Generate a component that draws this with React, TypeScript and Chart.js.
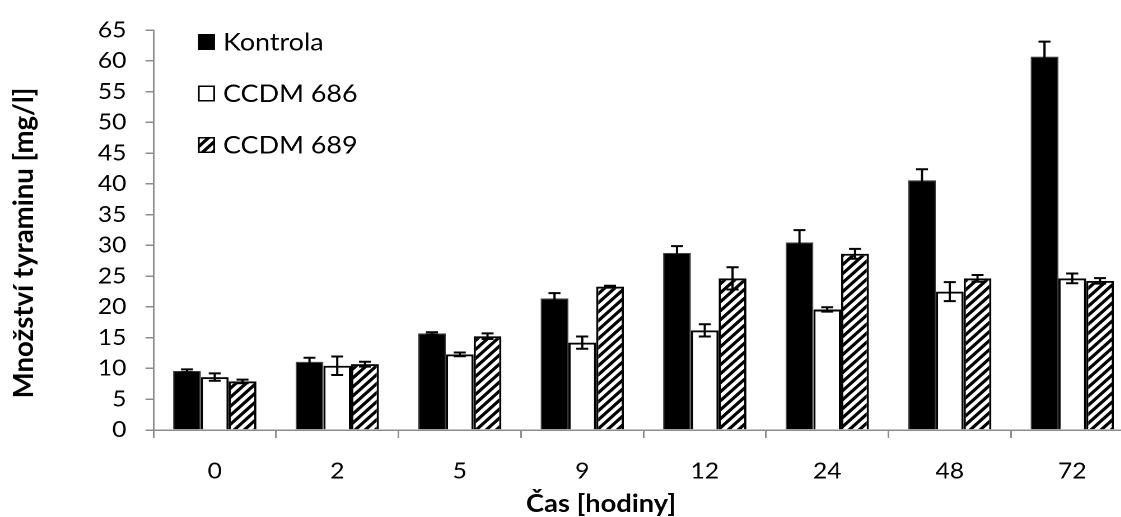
import React, { useEffect, useRef } from "react";
import { Chart, registerables } from "chart.js";

Chart.register(...registerables);

const categories = ["0", "2", "5", "9", "12", "24", "48", "72"];
const yTicks = [0, 5, 10, 15, 20, 25, 30, 35, 40, 45, 50, 55, 60, 65];
const seriesNames = ["Kontrola", "CCDM 686", "CCDM 689"];
const kontrola = [9.6, 11.1, 15.7, 21.4, 28.8, 30.5, 40.6, 60.7];
const kontrolaErr = [0.25, 0.65, 0.2, 0.85, 1.1, 2.0, 1.8, 2.45];
const ccdm686 = [8.6, 10.45, 12.3, 14.2, 16.2, 19.6, 22.5, 24.65];
const ccdm686Err = [0.6, 1.5, 0.3, 1.0, 1.0, 0.35, 1.55, 0.8];
const ccdm689 = [7.9, 10.7, 15.25, 23.3, 24.65, 28.65, 24.65, 24.25];
const ccdm689Err = [0.3, 0.4, 0.45, 0.15, 1.8, 0.8, 0.55, 0.45];
const xTitle = "Čas [hodiny]";
const yTitle = "Množství tyraminu [mg/l]";

// horizontal stretch of the whole drawing (the reference looks wider than tall)
const SX = 1.12;
const CW = 1025; // logical canvas width
const CH = 517;
const AXIS = "#8c8c8c";
const FONT = "Lato";

function makeHatch(): CanvasPattern | string {
  const c = document.createElement("canvas");
  const T = 18;
  c.width = T;
  c.height = T;
  const g = c.getContext("2d");
  if (!g) return "#fff";
  g.fillStyle = "#fff";
  g.fillRect(0, 0, T, T);
  g.strokeStyle = "#000";
  g.lineWidth = 6;
  g.beginPath();
  for (const k of [-T, 0, T]) {
    g.moveTo(k - 2, T + 2);
    g.lineTo(k + T + 2, -2);
  }
  g.stroke();
  const p = g.createPattern(c, "repeat");
  if (p && (p as any).setTransform && typeof DOMMatrix !== "undefined") {
    (p as any).setTransform(new DOMMatrix().scale(0.5, 0.5));
  }
  return p || "#fff";
}

function fitSize(ctx: CanvasRenderingContext2D, text: string, weight: string, target: number): number {
  ctx.save();
  ctx.font = `${weight} 100px ${FONT}`;
  const w = ctx.measureText(text).width;
  ctx.restore();
  return (100 * target) / w;
}

const errorBarPlugin = {
  id: "errorBars",
  afterDatasetsDraw(chart: any) {
    const ctx = chart.ctx;
    const yScale = chart.scales.y;
    const half = 6 / SX;
    ctx.save();
    ctx.strokeStyle = "#000";
    ctx.lineWidth = 2;
    chart.data.datasets.forEach((ds: any, di: number) => {
      const meta = chart.getDatasetMeta(di);
      meta.data.forEach((el: any, i: number) => {
        const v = ds.data[i];
        const e = ds.errors[i];
        const x = el.x;
        const yt = yScale.getPixelForValue(v + e);
        const yb = yScale.getPixelForValue(v - e);
        ctx.beginPath();
        ctx.moveTo(x, yt);
        ctx.lineTo(x, yb);
        ctx.moveTo(x - half, yt);
        ctx.lineTo(x + half, yt);
        ctx.moveTo(x - half, yb);
        ctx.lineTo(x + half, yb);
        ctx.stroke();
      });
    });
    ctx.restore();
  },
};

const textPlugin = {
  id: "texts",
  afterDraw(chart: any) {
    const ctx = chart.ctx;
    ctx.save();
    ctx.fillStyle = "#000";
    ctx.textAlign = "center";
    ctx.textBaseline = "middle";
    // x axis title
    const xs = fitSize(ctx, xTitle, "bold", 150 / SX);
    ctx.font = `bold ${xs}px ${FONT}`;
    ctx.fillText(xTitle, 601 / SX, 504);
    // y axis title (rotated: its length is not stretched)
    const ys = fitSize(ctx, yTitle, "bold", 311);
    ctx.save();
    ctx.translate(24 / SX, 243);
    ctx.scale(1 / SX, 1);
    ctx.rotate(-Math.PI / 2);
    ctx.font = `bold ${ys}px ${FONT}`;
    ctx.fillText(yTitle, 0, 0);
    ctx.restore();
    // legend
    const x0 = 198 / SX;
    const rows = [42, 93.5, 145];
    ctx.font = `24px ${FONT}`;
    ctx.textAlign = "left";
    chart.data.datasets.forEach((ds: any, i: number) => {
      const cy = rows[i];
      const sw = 17 / SX;
      const sh = 16;
      ctx.fillStyle = ds.backgroundColor;
      ctx.fillRect(x0, cy - sh / 2, sw, sh);
      if (i > 0) {
        ctx.strokeStyle = "#000";
        ctx.lineWidth = 1.5;
        ctx.strokeRect(x0 + 0.75, cy - sh / 2 + 0.75, sw - 1.5, sh - 1.5);
      }
      ctx.fillStyle = "#000";
      ctx.fillText(ds.label, 223 / SX, cy + 1);
    });
    ctx.restore();
  },
};

export default function App() {
  const ref = useRef<HTMLCanvasElement | null>(null);
  useEffect(() => {
    if (!ref.current) return;
    const hatch = makeHatch();
    const common = { categoryPercentage: 0.68, barPercentage: 1.0 };
    const plotRight = 1133.5 / SX;
    const chart = new Chart(ref.current, {
      type: "bar",
      data: {
        labels: categories,
        datasets: [
          { label: seriesNames[0], data: kontrola, errors: kontrolaErr, backgroundColor: "#000", borderColor: "#3c3c3c", borderWidth: 1, ...common } as any,
          { label: seriesNames[1], data: ccdm686, errors: ccdm686Err, backgroundColor: "#fff", borderColor: "#000", borderWidth: 2, ...common } as any,
          { label: seriesNames[2], data: ccdm689, errors: ccdm689Err, backgroundColor: hatch, borderColor: "#000", borderWidth: 2, ...common } as any,
        ],
      },
      options: {
        responsive: false,
        animation: false,
        devicePixelRatio: 2,
        layout: { padding: { left: 0, top: 24, right: CW - plotRight, bottom: 0 } },
        plugins: { legend: { display: false }, tooltip: { enabled: false }, title: { display: false } },
        scales: {
          x: {
            grid: { display: true, drawOnChartArea: false, drawTicks: true, tickLength: 8, color: AXIS, lineWidth: 1.5, offset: true },
            border: { color: AXIS, width: 1.5 },
            ticks: { color: "#000", font: { family: FONT, size: 22 }, padding: 20 },
            afterFit: (s: any) => { s.height = 87; },
          },
          y: {
            min: 0,
            max: 65,
            afterBuildTicks: (s: any) => { s.ticks = yTicks.map((v) => ({ value: v })); },
            grid: { display: true, drawOnChartArea: false, drawTicks: true, tickLength: 8 / SX, color: AXIS, lineWidth: 1.5 },
            border: { color: AXIS, width: 1.5 },
            ticks: { color: "#000", font: { family: FONT, size: 22 }, padding: 17 },
            afterFit: (s: any) => { s.width = 153.5 / SX; },
          },
        },
      } as any,
      plugins: [errorBarPlugin, textPlugin],
    });
    return () => chart.destroy();
  }, []);
  return (
    <div style={{ position: "fixed", left: 0, top: 0, width: 1121, height: 517, overflow: "hidden", background: "#fff" }}>
      <canvas
        ref={ref}
        width={CW}
        height={CH}
        style={{ display: "block", width: CW, height: CH, transform: `scaleX(${SX})`, transformOrigin: "0 0" }}
      />
    </div>
  );
}
